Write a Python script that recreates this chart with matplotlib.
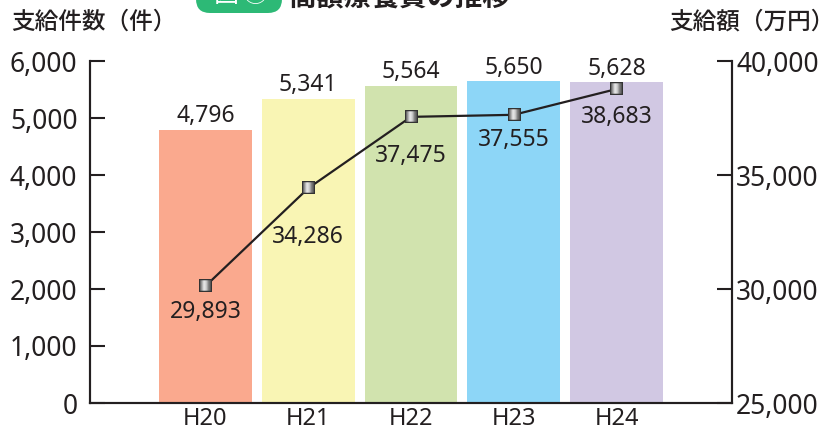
import matplotlib
matplotlib.use('Agg')
import matplotlib.pyplot as plt
import numpy as np
from matplotlib.offsetbox import AnnotationBbox, OffsetImage
from matplotlib.patches import FancyBboxPatch
from matplotlib.transforms import IdentityTransform

plt.rcParams['font.family'] = ['Noto Sans', 'Noto Sans CJK JP', 'DejaVu Sans']

years = ['H20', 'H21', 'H22', 'H23', 'H24']
cases = [4796, 5341, 5564, 5650, 5628]
# where the line is actually drawn in the picture, a bit off its printed labels
amount_drawn = [30130, 34420, 37550, 37640, 38770]
amount_labels = ['29,893', '34,286', '37,475', '37,555', '38,683']
bar_colors = ['#faa98e', '#f9f5b4', '#d1e3ae', '#8dd6f7', '#d1c8e3']
left_ticks = [0, 1000, 2000, 3000, 4000, 5000, 6000]
right_ticks = [25000, 30000, 35000, 40000]

W, H = 824, 430
ink = '#231f20'

fig = plt.figure(figsize=(W / 100, H / 100), dpi=100)
ax = fig.add_axes([90 / W, 1 - 403 / H, 642 / W, 342 / H])
ax2 = ax.twinx()
ax.set_zorder(1)
ax2.set_zorder(2)
ax2.patch.set_visible(False)

x = list(range(len(years)))
ax.bar(x, cases, width=0.905, color=bar_colors)
for i, v in enumerate(cases):
    ax.annotate(f'{v:,}', (i, v), xytext=(0, 1), textcoords='offset points',
                ha='center', va='bottom', fontsize=16.5, color=ink)

ax.set_xlim(-1.124, 5.124)
ax.set_ylim(0, 6000)
ax.set_xticks(x, years)
ax.set_yticks(left_ticks, [f'{t:,}' for t in left_ticks])
ax.tick_params(axis='x', length=0, pad=3, labelsize=17, labelcolor=ink)
ax.tick_params(axis='y', direction='in', length=11, width=1.5, color=ink,
               pad=9, labelsize=19, labelcolor=ink)

ax2.plot(x, amount_drawn, color=ink, lw=1.6)
ax2.set_ylim(25000, 40000)
ax2.set_yticks(right_ticks, [f'{t:,}' for t in right_ticks])
ax2.tick_params(axis='y', direction='in', length=11, width=1.5, color=ink,
                pad=3, labelsize=19, labelcolor=ink)

# square markers with the grey gradient of the original
shade = np.array([0.35, 0.5, 0.7, 0.85, 0.9, 0.8, 0.65, 0.5, 0.4, 0.3])
marker = np.tile(shade, (10, 1))
marker[[0, -1], :] = 0.2
marker[:, [0, -1]] = 0.2
for i, v in enumerate(amount_drawn):
    ax2.add_artist(AnnotationBbox(OffsetImage(marker, cmap='gray', norm=plt.Normalize(0, 1), zoom=0.9),
                                  (i, v), frameon=False, pad=0))

# how far below each marker its label sits, in points
label_drop = [19, 35, 28.5, 18, 20]
for i, txt in enumerate(amount_labels):
    ax2.annotate(txt, (i, amount_drawn[i]), xytext=(0, -label_drop[i]),
                 textcoords='offset points', ha='center', va='center',
                 fontsize=16.5, color=ink)

for a in (ax, ax2):
    a.spines['top'].set_visible(False)
    for s in a.spines.values():
        s.set_linewidth(1.5)
        s.set_color(ink)

# axis titles
fig.text(11 / W, 1 - 22.5 / H, '支給件数（件）', fontsize=17, color=ink, va='center', fontweight='medium')
fig.text(669 / W, 1 - 22.5 / H, '支給額（万円）', fontsize=17, color=ink, va='center', fontweight='medium')

# title cut off by the top of the picture
badge = FancyBboxPatch((196, H - 13), 86, 40, boxstyle='round,pad=0,rounding_size=14',
                       transform=IdentityTransform(), fc='#2db976', ec='none')
fig.add_artist(badge)
fig.text(226 / W, 1 + 5 / H, '図', fontsize=18, color='white', ha='center', va='center')
fig.text(255 / W, 1 + 5 / H, '①', fontsize=18, color='white', ha='center', va='center')
fig.text(288 / W, 1 + 1 / H, '高額療養費の推移', fontsize=20, color=ink, va='center', fontweight='bold')

fig.savefig('out.png', dpi=100)
